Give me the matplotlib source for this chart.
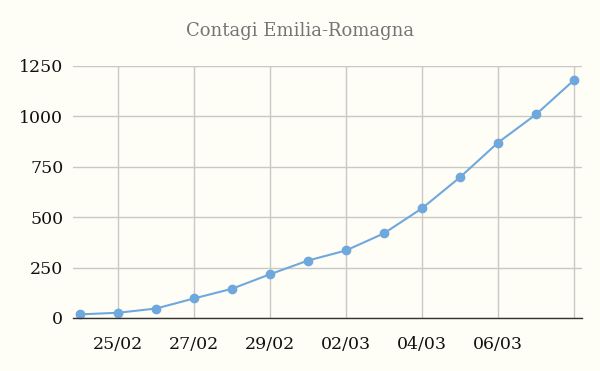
import matplotlib.pyplot as plt

# Emilia-Romagna cumulative cases
dates = ["24/02", "25/02", "26/02", "27/02", "28/02", "29/02", "01/03",
         "02/03", "03/03", "04/03", "05/03", "06/03", "07/03", "08/03"]
cases = [18, 26, 47, 97, 145, 217, 285, 335, 420, 544, 698, 870, 1010, 1180]
y_ticks = [0, 250, 500, 750, 1000, 1250]

bg = "#fefef6"
line_color = "#6fa8dc"
grid_color = "#c8c8c8"

plt.rcParams["font.family"] = ["DejaVu Serif"]

fig = plt.figure(figsize=(6, 3.71), dpi=100, facecolor=bg)
ax = fig.add_axes([73 / 600, 1 - 318 / 371, 509 / 600, 252 / 371])
ax.set_facecolor(bg)

x = list(range(len(dates)))
ax.plot(x, cases, color=line_color, linewidth=1.5, marker="o",
        markersize=6, zorder=3, clip_on=False)

# every other day gets a gridline; the last one has no label
tick_pos = x[1::2]
tick_lab = [d if i < len(dates) - 1 else "" for i, d in zip(tick_pos, dates[1::2])]
ax.set_xticks(tick_pos)
ax.set_xticklabels(tick_lab)
ax.set_yticks(y_ticks)
ax.set_xlim(-0.184, 13.21)
ax.set_ylim(0, 1250)

ax.grid(True, color=grid_color, linewidth=1)
ax.set_axisbelow(True)
ax.tick_params(axis="both", length=0, labelsize=12.5, colors="#111111")
ax.tick_params(axis="x", pad=13)
ax.tick_params(axis="y", pad=7)

for s in ["top", "right", "left"]:
    ax.spines[s].set_visible(False)
ax.spines["bottom"].set_color("#333333")
ax.spines["bottom"].set_linewidth(1)
ax.spines["bottom"].set_zorder(4)

fig.text(0.5, 1 - 31 / 371, "Contagi Emilia-Romagna", ha="center", va="center",
         fontsize=13, color="#757575")

fig.savefig("out.png", dpi=100, facecolor=bg)
